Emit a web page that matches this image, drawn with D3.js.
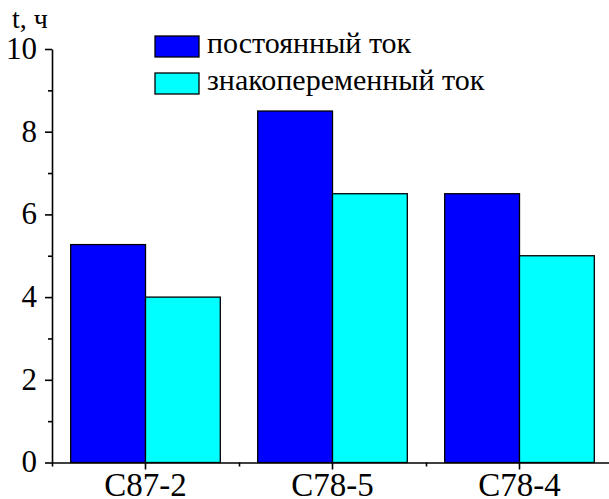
<!DOCTYPE html>
<html>
<head>
<meta charset="utf-8">
<script src="https://cdn.jsdelivr.net/npm/d3@7"></script>
</head>
<body style="margin:0">
<script>
const samples = ["C87-2", "C78-5", "C78-4"];
const series = ["постоянный ток", "знакопеременный ток"];
const dcValues = [5.27, 8.5, 6.5];
const acValues = [4, 6.5, 5];
const colors = ["#0000ff", "#00ffff"];
const yTicks = [0, 2, 4, 6, 8, 10];

const width = 609, height = 499;
const x0 = 52, x1 = 613, yTop = 49, yBottom = 462.5;
const serif = "Times New Roman";

const svg = d3.select("body").append("svg")
    .attr("width", width).attr("height", height);

const x = d3.scaleBand().domain(samples).range([x0, x1]).paddingInner(0).paddingOuter(0);
const xs = d3.scaleBand().domain([0, 1]).range([0, x.bandwidth()]).paddingOuter(0.25).paddingInner(0);
const y = d3.scaleLinear().domain([0, 10]).range([yBottom, yTop]);

const rows = samples.map((s, i) => ({ s, v: [dcValues[i], acValues[i]] }));

// bars
svg.append("g")
  .selectAll("g")
  .data(rows)
  .join("g")
  .attr("transform", d => `translate(${x(d.s)},0)`)
  .selectAll("rect")
  .data(d => d.v.map((v, k) => ({ v, k })))
  .join("rect")
  .attr("x", d => xs(d.k))
  .attr("width", xs.bandwidth())
  .attr("y", d => y(d.v))
  .attr("height", d => y(0) - y(d.v))
  .attr("fill", d => colors[d.k])
  .attr("stroke", "#000")
  .attr("stroke-width", 1.3);

// y axis
const yAxis = svg.append("g").attr("transform", `translate(${x0},0)`)
  .call(d3.axisLeft(y).tickValues(yTicks).tickSize(7).tickSizeOuter(0).tickPadding(8))
  .attr("font-family", serif).attr("font-size", 31);
yAxis.selectAll("text").attr("dy", "0.3em");
svg.append("g").attr("transform", `translate(${x0},0)`)
  .call(d3.axisLeft(y).tickValues([1, 3, 5, 7, 9]).tickSize(4).tickFormat(""))
  .select(".domain").remove();

// x axis
const xAxis = svg.append("g").attr("transform", `translate(0,${yBottom})`)
  .call(d3.axisBottom(x).tickSize(7).tickSizeOuter(0).tickPadding(3))
  .attr("font-family", serif).attr("font-size", 33);
svg.append("g").attr("transform", `translate(0,${yBottom})`)
  .call(d3.axisBottom(d3.scaleLinear().domain([0, 3]).range([x0, x1])).tickValues([0, 1, 2, 3]).tickSize(4).tickFormat(""))
  .select(".domain").remove();

svg.selectAll(".domain, .tick line").attr("stroke", "#000").attr("stroke-width", 1.6);
svg.selectAll(".tick text").attr("fill", "#000").attr("font-family", serif);

// axis title
svg.append("text").attr("x", 12).attr("y", 28)
  .attr("font-family", serif).attr("font-size", 28).text("t, ч");

// legend
const legend = svg.append("g").selectAll("g").data(series).join("g")
  .attr("transform", (d, i) => `translate(155,${36 + i * 37})`);
legend.append("rect").attr("width", 44).attr("height", 21)
  .attr("fill", (d, i) => colors[i]).attr("stroke", "#000").attr("stroke-width", 1.3);
legend.append("text").attr("x", 52).attr("y", 17)
  .attr("font-family", serif).attr("font-size", 30).text(d => d);
</script>
</body>
</html>
